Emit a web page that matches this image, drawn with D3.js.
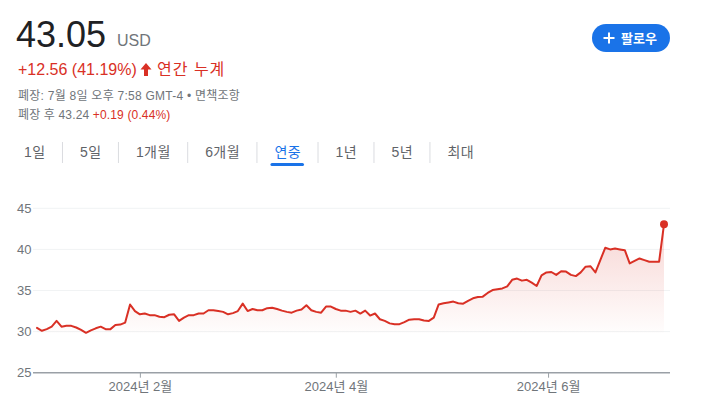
<!DOCTYPE html>
<html>
<head>
<meta charset="utf-8">
<script src="https://cdn.jsdelivr.net/npm/d3@7"></script>
<style>
  body { margin: 0; background: #fff; }
  svg { display: block; font-family: Arial, "Liberation Sans", "Noto Sans CJK KR", sans-serif; }
</style>
</head>
<body>
<svg id="chart"></svg>
<script>
// ── Data ───────────────────────────────────────────────────────────────────
// daily closes, YTD 2024 (one per trading day)
const closes = [
    30.45, 30.1, 30.3, 30.6, 31.3, 30.6, 30.7, 30.7, 30.5, 30.2, 29.85, 30.15, 30.4,
    30.6, 30.3, 30.3, 30.8, 30.85, 31.1, 33.3, 32.5, 32.1, 32.2, 32.0, 32.0, 31.8,
    31.75, 32.05, 32.1, 31.3, 31.7, 32.0, 32.0,
    32.2, 32.2, 32.6, 32.6, 32.5, 32.4, 32.1, 32.25, 32.5, 33.4, 32.5, 32.75, 32.6,
    32.6, 32.85, 32.9, 32.75, 32.55, 32.4, 32.3, 32.55, 32.7, 33.2, 32.6, 32.4, 32.3,
    33.05, 33.05, 32.75, 32.55, 32.55, 32.4, 32.55,
    32.2, 32.55, 31.95, 32.2, 31.5, 31.3, 31.0, 30.9, 30.9, 31.15, 31.45, 31.5, 31.5,
    31.35, 31.3, 31.7, 33.3, 33.45, 33.55, 33.65, 33.45, 33.4, 33.75, 34.05, 34.2,
    34.25, 34.7, 35.05, 35.15, 35.25, 35.5, 36.3,
    36.45, 36.2, 36.3, 35.95, 35.55, 36.85, 37.2, 37.25, 36.9, 37.35, 37.3, 36.9,
    36.75, 37.2, 37.9, 37.95, 37.2, 38.7, 40.2, 40.0, 40.1, 40.0, 39.9, 38.3, 38.6,
    38.9, 38.7, 38.5, 38.5, 38.5, 43.05
];
const startDate  = "2024-01-02";
const holidays   = ["2024-01-15", "2024-02-19", "2024-03-29", "2024-05-27", "2024-06-19", "2024-07-04"];
const xTickDates = ["2024-02-01", "2024-04-01", "2024-06-01"];
const yTicks     = [25, 30, 35, 40, 45];
const tabs       = ["1일", "5일", "1개월", "6개월", "연중", "1년", "5년", "최대"];
const activeTab  = "연중";

const RED = "#d93025", BLUE = "#1a73e8", GREY = "#70757a";

// ── Trading-day calendar ───────────────────────────────────────────────────
const parse = d3.utcParse("%Y-%m-%d");
const fmt   = d3.utcFormat("%Y-%m-%d");
const dates = [];
for (let d = parse(startDate); dates.length < closes.length; d = d3.utcDay.offset(d, 1)) {
    const wd = d.getUTCDay();
    if (wd === 0 || wd === 6 || holidays.includes(fmt(d))) continue;
    dates.push(d);
}
// calendar date -> fractional trading-day index
function dateIndex(s) {
    const t = parse(s);
    const k = d3.bisectRight(dates, t) - 1;
    if (k < 0) return 0;
    if (k >= dates.length - 1) return dates.length - 1;
    return k + (t - dates[k]) / (dates[k + 1] - dates[k]);
}

const svg = d3.select("#chart").attr("width", 706).attr("height", 408);

// ── Header ─────────────────────────────────────────────────────────────────
svg.append("text").attr("x", 16).attr("y", 46.5)
    .attr("font-size", 36).attr("fill", "#202124").text("43.05");
svg.append("text").attr("x", 117).attr("y", 46)
    .attr("font-size", 16).attr("fill", GREY).text("USD");

svg.append("text").attr("x", 18).attr("y", 75)
    .attr("font-size", 16).attr("fill", RED).text("+12.56 (41.19%)");
svg.append("path")
    .attr("d", "M146,63 L151.5,69.5 L148,69.5 L148,76 L144,76 L144,69.5 L140.5,69.5 Z")
    .attr("fill", RED);
svg.append("text").attr("x", 157).attr("y", 75)
    .attr("font-size", 16).attr("letter-spacing", 1).attr("fill", RED).text("연간 누계");

svg.append("text").attr("x", 18).attr("y", 100)
    .attr("font-size", 12).attr("letter-spacing", 0.25).attr("fill", GREY)
    .text("폐장: 7월 8일 오후 7:58 GMT-4 • 면책조항");
const after = svg.append("text").attr("x", 18).attr("y", 119)
    .attr("font-size", 12).attr("letter-spacing", 0.15).attr("fill", GREY);
after.append("tspan").text("폐장 후 43.24 ");
after.append("tspan").attr("fill", RED).text("+0.19 (0.44%)");

// Follow button
svg.append("rect").attr("x", 592).attr("y", 24).attr("width", 78).attr("height", 28)
    .attr("rx", 14).attr("fill", BLUE);
svg.append("path").attr("d", "M603.5,38 h11 M609,32.5 v11")
    .attr("stroke", "#fff").attr("stroke-width", 2);
svg.append("text").attr("x", 621).attr("y", 42.5)
    .attr("font-size", 13).attr("font-weight", 700).attr("fill", "#fff").text("팔로우");

// ── Range tabs ─────────────────────────────────────────────────────────────
let tx = 24;
tabs.forEach((t, i) => {
    const active = t === activeTab;
    const label = svg.append("text").attr("x", tx).attr("y", 157)
        .attr("font-size", 14).attr("letter-spacing", 0.4)
        .attr("fill", active ? BLUE : "#5f6368").text(t);
    const tw = label.node().getComputedTextLength();
    if (active) {
        svg.append("rect").attr("x", tx - 4).attr("y", 163).attr("width", tw + 7)
            .attr("height", 3).attr("rx", 1.5).attr("fill", BLUE);
    }
    if (i < tabs.length - 1) {
        const sx = tx + tw + 17;
        svg.append("line").attr("x1", sx).attr("x2", sx).attr("y1", 142).attr("y2", 163)
            .attr("stroke", "#dadce0");
        tx = sx + 17.5;
    }
});

// ── Scales ─────────────────────────────────────────────────────────────────
const x = d3.scaleLinear().domain([0, closes.length - 1]).range([37, 664]);
const y = d3.scaleLinear().domain([25, 45]).range([372.7, 208.3]);

// ── Gridlines + y labels ───────────────────────────────────────────────────
svg.append("g").selectAll("line")
    .data(yTicks.filter(v => v !== 25))
    .join("line")
    .attr("x1", 33).attr("x2", 670)
    .attr("y1", d => y(d)).attr("y2", d => y(d))
    .attr("stroke", "#f1f3f4");

svg.append("g").selectAll("text")
    .data(yTicks)
    .join("text")
    .attr("x", 17).attr("y", d => y(d))
    .attr("dy", "0.36em")
    .attr("font-size", 13).attr("fill", GREY)
    .text(d => d);

// ── Area + line ────────────────────────────────────────────────────────────
const grad = svg.append("defs").append("linearGradient")
    .attr("id", "fade").attr("gradientUnits", "userSpaceOnUse")
    .attr("x1", 0).attr("x2", 0)
    .attr("y1", y(d3.max(closes))).attr("y2", y(d3.min(closes)));
grad.append("stop").attr("offset", 0).attr("stop-color", RED).attr("stop-opacity", 0.2);
grad.append("stop").attr("offset", 1).attr("stop-color", RED).attr("stop-opacity", 0.01);

svg.append("path")
    .datum(closes)
    .attr("fill", "url(#fade)")
    .attr("d", d3.area()
        .x((d, i) => x(i))
        .y0(y(d3.min(closes)))
        .y1(d => y(d)));

svg.append("path")
    .datum(closes)
    .attr("fill", "none")
    .attr("stroke", RED)
    .attr("stroke-width", 2)
    .attr("stroke-linejoin", "round")
    .attr("stroke-linecap", "round")
    .attr("d", d3.line()
        .x((d, i) => x(i))
        .y(d => y(d)));

svg.append("circle")
    .attr("cx", x(closes.length - 1))
    .attr("cy", y(closes[closes.length - 1]))
    .attr("r", 4)
    .attr("fill", RED);

// ── X axis ─────────────────────────────────────────────────────────────────
svg.append("line")
    .attr("x1", 33).attr("x2", 670)
    .attr("y1", y(25)).attr("y2", y(25))
    .attr("stroke", "#9aa0a6").attr("stroke-width", 1.5);

const monthLabel = s => { const d = parse(s); return `${d.getUTCFullYear()}년 ${d.getUTCMonth() + 1}월`; };

const xAxis = svg.append("g")
    .attr("transform", `translate(0,${y(25)})`)
    .call(d3.axisBottom(x)
        .tickValues(xTickDates.map(dateIndex))
        .tickSize(5)
        .tickFormat((d, i) => monthLabel(xTickDates[i])));
xAxis.select(".domain").remove();
xAxis.selectAll("line").attr("stroke", "#9aa0a6");
xAxis.selectAll("text")
    .attr("y", 14).attr("dy", "0.36em")
    .attr("font-size", 13)
    .attr("font-family", 'Arial, "Liberation Sans", "Noto Sans CJK KR", sans-serif')
    .attr("fill", GREY);
</script>
</body>
</html>
